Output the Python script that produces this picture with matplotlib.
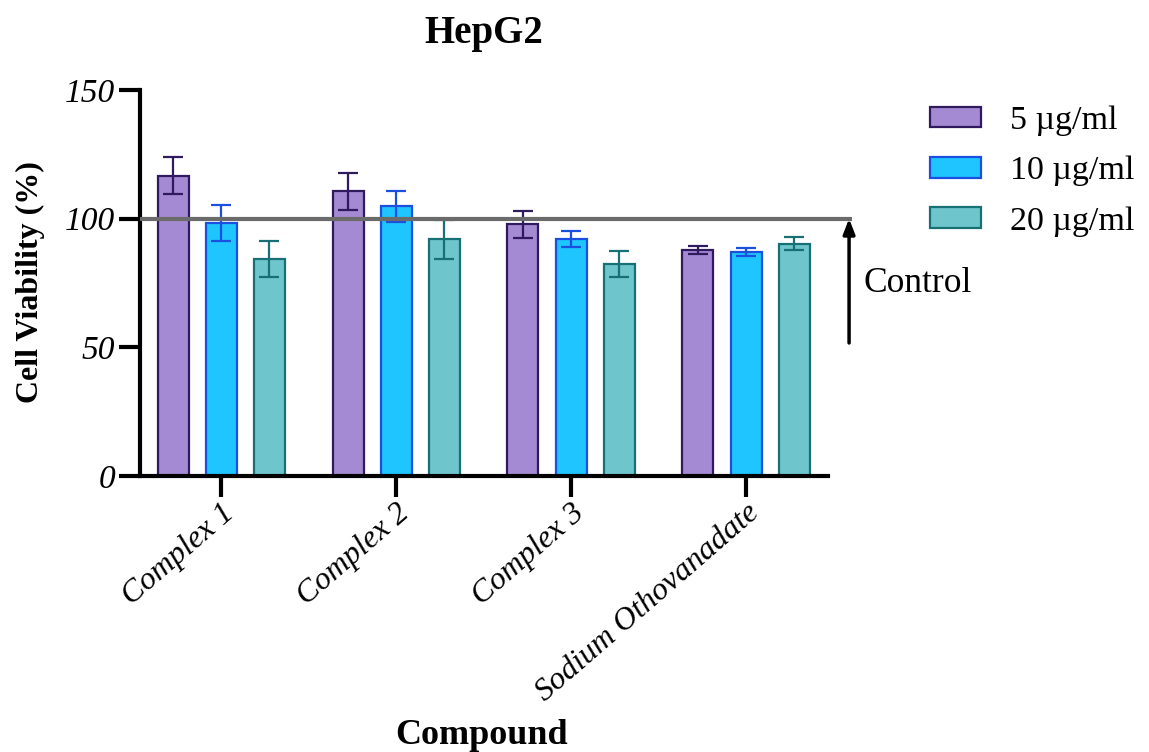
import matplotlib
matplotlib.use("Agg")
import matplotlib.pyplot as plt
import numpy as np

plt.rcParams['font.family'] = ['Liberation Serif', 'DejaVu Serif']

categories = ["Complex 1", "Complex 2", "Complex 3", "Sodium Othovanadate"]
series_labels = ["5 \u00b5g/ml", "10 \u00b5g/ml", "20 \u00b5g/ml"]
means_5 = [116.7, 110.6, 97.8, 87.8]
means_10 = [98.5, 104.8, 92.2, 86.9]
means_20 = [84.3, 92.0, 82.5, 90.3]
sd_5 = [7.2, 7.2, 5.3, 1.6]
sd_10 = [7.0, 6.0, 3.1, 1.6]
sd_20 = [7.0, 7.5, 5.0, 2.6]
control_value = 100
y_ticks = [0, 50, 100, 150]

fills = ["#A48AD3", "#1EC5FF", "#6EC6CC"]
edges = ["#2E1A5C", "#1A4FE0", "#177074"]

fig = plt.figure(figsize=(11.49, 7.52), dpi=100)
ax = fig.add_axes([140/1149, 1-476/752, (828-140)/1149, (476-90)/752])

x = np.arange(len(categories))
step = 48/175
width = 31/175
all_means = [means_5, means_10, means_20]
all_sd = [sd_5, sd_10, sd_20]
handles = []
for i in range(3):
    pos = x + (i-1)*step
    b = ax.bar(pos, all_means[i], width, color=fills[i], edgecolor=edges[i],
               linewidth=1.6, label=series_labels[i], zorder=2)
    ax.errorbar(pos, all_means[i], yerr=all_sd[i], fmt='none', ecolor=edges[i],
                elinewidth=1.6, capsize=7, capthick=1.6, zorder=3)
    handles.append(b)

xl = (140-221)/175
xr = (828-221)/175
ax.set_xlim(xl, xr)
ax.set_ylim(0, 150)

# control line
ax.plot([xl, (852-221)/175], [control_value, control_value], color="#6B6B6B",
        lw=3, clip_on=False, zorder=4, solid_capstyle='butt')
ax.annotate("", xy=(3.589, control_value), xytext=(3.589, 51.7),
            arrowprops=dict(arrowstyle="-|>,head_length=0.9,head_width=0.35",
                            color="black", lw=2.5, shrinkA=0, shrinkB=0),
            annotation_clip=False)
ax.text(3.669, 75, "Control", fontsize=25.5, va='center', ha='left', clip_on=False)

for s in ['top', 'right']:
    ax.spines[s].set_visible(False)
for s in ['left', 'bottom']:
    ax.spines[s].set_linewidth(3)

ax.set_yticks(y_ticks)
ax.set_yticklabels([str(v) for v in y_ticks], fontsize=24, style='italic')
ax.set_xticks(x)
ax.set_xticklabels(categories, fontsize=23, style='italic', rotation=41,
                   ha='right', rotation_mode='anchor')
ax.tick_params(axis='both', width=3, length=15, direction='out')
ax.tick_params(axis='x', pad=1)
ax.tick_params(axis='y', pad=3)

fig.text(484/1149, 1-33/752, "HepG2", fontsize=28, fontweight='bold',
         ha='center', va='center')
fig.text(482/1149, 1-735/752, "Compound", fontsize=26, fontweight='bold',
         ha='center', va='center')
fig.text(30/1149, 1-282/752, "Cell Viability (%)", fontsize=23, fontweight='bold',
         ha='center', va='center', rotation=90)

fig.legend(handles=handles, labels=series_labels, loc='upper left',
           bbox_to_anchor=(899/1149, 1-75/752), frameon=False, fontsize=24.5,
           handlelength=1.5, handleheight=0.55, labelspacing=0.58, handletextpad=0.85)

fig.savefig("out.png", dpi=100)
